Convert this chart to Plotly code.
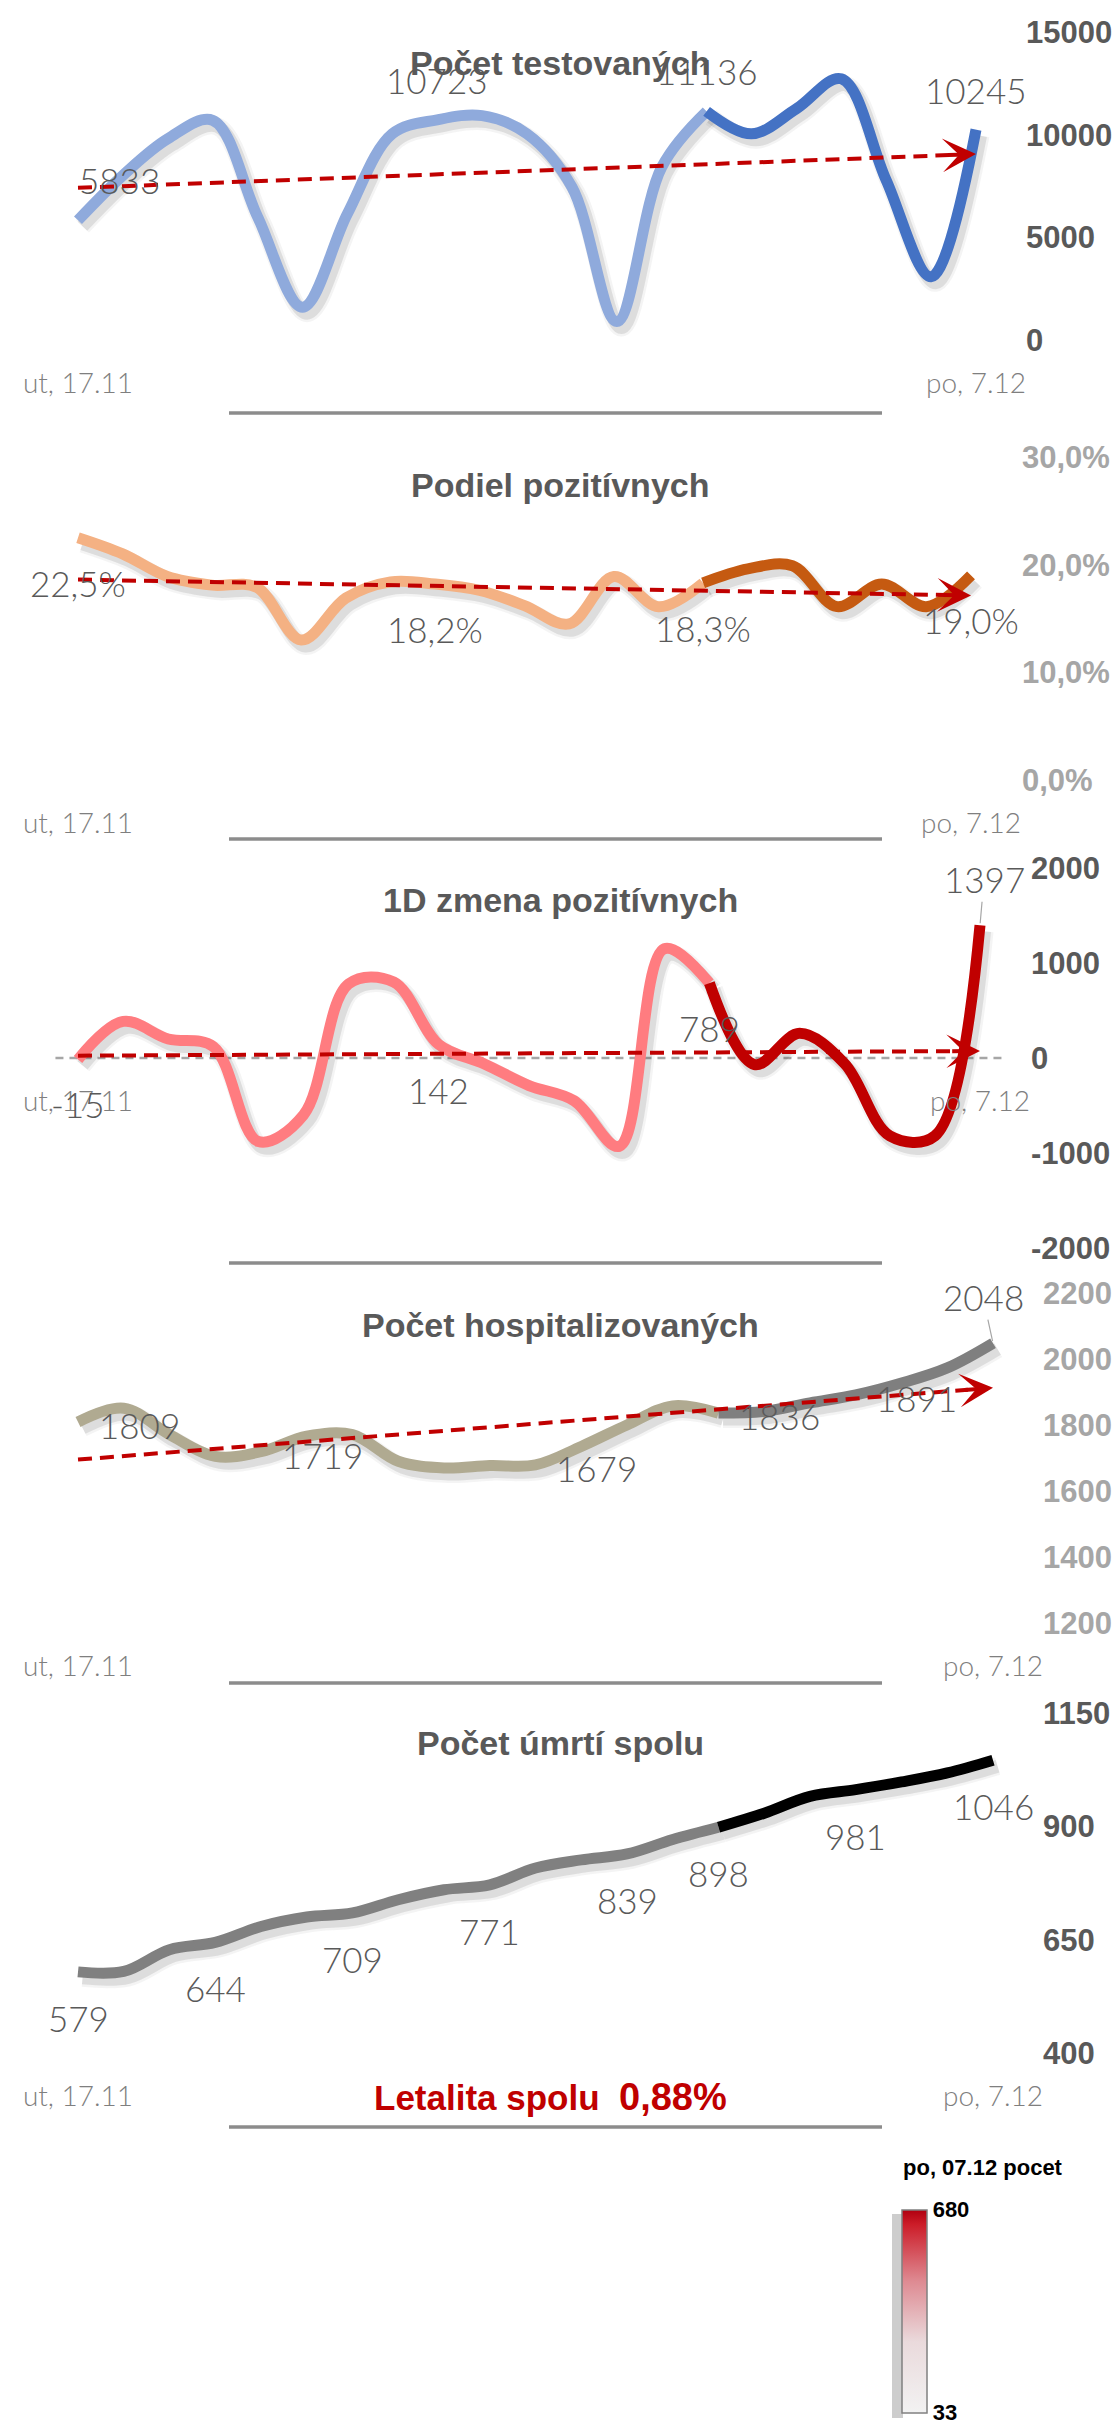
import numpy as np
import plotly.graph_objects as go

W, H = 1116, 2424

# ---------------- data ----------------
x_tick_labels = ["ut, 17.11", "po, 7.12"]
days = list(range(21))
highlight_from = 14  # last 7 days drawn darker

tests = [5833, 8020, 9800, 10700, 6000, 1600, 6150, 10040, 10723, 10930, 10040,
         7450, 900, 8420, 11136, 10040, 11260, 12720, 7780, 3080, 10245]
pos_share = [0.225, 0.210, 0.189, 0.181, 0.179, 0.130, 0.169, 0.184, 0.182, 0.176, 0.162,
             0.145, 0.189, 0.161, 0.183, 0.196, 0.199, 0.161, 0.182, 0.161, 0.190]
pos_change = [-15, 385, 200, 120, -880, -600, 780, 800, 142, -60, -290,
              -450, -930, 1150, 789, -70, 260, -60, -820, -820, 1397]
hospitalized = [1809, 1851, 1771, 1705, 1719, 1766, 1771, 1690, 1670, 1677, 1679,
                1735, 1800, 1858, 1836, 1841, 1867, 1891, 1927, 1973, 2048]
deaths = [579, 580, 628, 644, 679, 700, 709, 738, 760, 771, 808,
          826, 839, 871, 898, 929, 966, 981, 998, 1018, 1046]

tests_ticks = [0, 5000, 10000, 15000]
share_ticks = [0.0, 0.1, 0.2, 0.3]
change_ticks = [-2000, -1000, 0, 1000, 2000]
hosp_ticks = [1200, 1400, 1600, 1800, 2000, 2200]
deaths_ticks = [400, 650, 900, 1150]

tests_label_idx = [0, 8, 14, 20]
share_label_idx = [0, 8, 14, 20]
change_label_idx = [0, 8, 14, 20]
hosp_label_idx = [0, 4, 10, 14, 17, 20]
deaths_label_idx = [0, 3, 6, 9, 12, 14, 17, 20]

lethality_text = "Letalita spolu"
lethality_value = "0,88%"
colorbar_title = "po, 07.12 pocet"
colorbar_min, colorbar_max = 33, 680


def pct(v):
    return f"{v*100:.1f}%".replace(".", ",")


def num(v):
    return f"{int(round(v))}"


# ---------------- layout specs (pixels) ----------------
charts = [
    dict(title="Počet testovaných", values=tests, ticks=tests_ticks, fmt=num, tickfmt=num,
         rng=[0, 15000], top=32, bottom=340, x0=78, xN=976, tick_left=1029, tick_color="#595959",
         light="#8FAADC", dark="#4472C4", trend=True, title_y=63,
         label_idx=tests_label_idx, lab_dy=40, lab_dx=0, first_dx=41, lead_last=False, lead_dx=0),
    dict(title="Podiel pozitívnych", values=pos_share, ticks=share_ticks, fmt=pct, tickfmt=pct,
         rng=[0, 0.3], top=457, bottom=780, x0=78, xN=971, tick_left=1025, tick_color="#A6A6A6",
         light="#F4B183", dark="#C55A11", trend=True, title_y=485,
         label_idx=share_label_idx, lab_dy=-45, lab_dx=0, first_dx=0, lead_last=False, lead_dx=0),
    dict(title="1D zmena pozitívnych", values=pos_change, ticks=change_ticks, fmt=num, tickfmt=num,
         rng=[-2000, 2000], top=868, bottom=1248, x0=78, xN=980, tick_left=1034, tick_color="#595959",
         light="#FF7C80", dark="#C00000", trend=True, title_y=900,
         label_idx=change_label_idx, lab_dy=-45, lab_dx=0, first_dx=0, lead_last=True, lead_dx=4),
    dict(title="Počet hospitalizovaných", values=hospitalized, ticks=hosp_ticks, fmt=num, tickfmt=num,
         rng=[1200, 2200], top=1293, bottom=1623, x0=78, xN=993, tick_left=1046, tick_color="#A6A6A6",
         light="#B0AA91", dark="#7F7F7F", trend=True, title_y=1325,
         label_idx=hosp_label_idx, lab_dy=-3, lab_dx=61, first_dx=61, lead_last=True, lead_dx=-10),
    dict(title="Počet úmrtí spolu", values=deaths, ticks=deaths_ticks, fmt=num, tickfmt=num,
         rng=[400, 1150], top=1713, bottom=2053, x0=78, xN=993, tick_left=1046, tick_color="#595959",
         light="#808080", dark="#000000", trend=False, title_y=1743,
         label_idx=deaths_label_idx, lab_dy=-46, lab_dx=0, first_dx=0, lead_last=False, lead_dx=0),
]
separator_y = [413, 839, 1263, 1683, 2127]

BOLD_FONT = "Liberation Sans, Arial, sans-serif"
THIN_FONT = "Lato, Open Sans, sans-serif"

fig = go.Figure()
layout = dict(width=W, height=H, margin=dict(l=0, r=0, t=0, b=0, autoexpand=False),
              paper_bgcolor="white", plot_bgcolor="white", showlegend=False)
annotations = []
shapes = []

for k, c in enumerate(charts, start=1):
    sfx = "" if k == 1 else str(k)
    xa, ya = "x" + sfx, "y" + sfx
    s = (c["xN"] - c["x0"]) / 20
    xdom = [(c["x0"] - s / 2) / W, (c["xN"] + s / 2) / W]
    ydom = [1 - c["bottom"] / H, 1 - c["top"] / H]
    vals = c["values"]
    span = c["rng"][1] - c["rng"][0]
    px_h = c["bottom"] - c["top"]

    # x-axis position (chart 3 crosses at zero)
    if c["rng"][0] < 0 < c["rng"][1]:
        xpos = ydom[0] + (0 - c["rng"][0]) / span * (ydom[1] - ydom[0])
        x_anchor = dict(anchor="free", position=xpos)
        shapes.append(dict(type="line", xref=xa + " domain", x0=0, x1=1, yref=ya, y0=0, y1=0,
                           line=dict(color="#A6A6A6", width=2.5, dash="8px,6px"), layer="below"))
    else:
        x_anchor = dict(anchor=ya)

    layout["xaxis" + sfx] = dict(domain=xdom, range=[-0.5, 20.5], showgrid=False, zeroline=False,
                                 showline=False, ticks="", tickvals=[days[0], days[-1]],
                                 ticktext=x_tick_labels, ticklabelstandoff=24,
                                 tickfont=dict(family=THIN_FONT, size=28, color="#7F7F7F", weight=300),
                                 fixedrange=True, **x_anchor)
    layout["yaxis" + sfx] = dict(domain=ydom, range=c["rng"], showgrid=False, zeroline=False,
                                 showline=False, ticks="", side="right", anchor="free",
                                 position=(c["tick_left"] - 4) / W,
                                 tickvals=c["ticks"], ticktext=[c["tickfmt"](t) for t in c["ticks"]],
                                 tickfont=dict(family=BOLD_FONT, size=31, color=c["tick_color"], weight="bold"),
                                 fixedrange=True)

    segs = [(days[:highlight_from + 1], vals[:highlight_from + 1], c["light"]),
            (days[highlight_from:], vals[highlight_from:], c["dark"])]
    # soft drop shadows
    dy = span / px_h * 6
    for xs, ys, col in segs:
        for w, a in ((18, 0.06), (13, 0.12)):
            fig.add_trace(go.Scatter(x=[x + 0.1 for x in xs], y=[y - dy for y in ys], mode="lines",
                                     line=dict(color=f"rgba(60,60,60,{a})", width=w, shape="spline"),
                                     xaxis=xa, yaxis=ya, hoverinfo="skip"))
    for xs, ys, col in segs:
        fig.add_trace(go.Scatter(x=xs, y=ys, mode="lines",
                                 line=dict(color=col, width=11, shape="spline"),
                                 xaxis=xa, yaxis=ya, hoverinfo="skip"))

    if c["trend"]:
        slope, icpt = np.polyfit(days, vals, 1)
        t_end = 19.45
        fig.add_trace(go.Scatter(x=[days[0], t_end], y=[icpt, icpt + slope * t_end], mode="lines",
                                 line=dict(color="#C00000", width=4, dash="14px,8px"),
                                 xaxis=xa, yaxis=ya, hoverinfo="skip"))
        annotations.append(dict(x=days[-1], y=icpt + slope * days[-1], ax=t_end - 0.1,
                                ay=icpt + slope * (t_end - 0.1), xref=xa, yref=ya, axref=xa, ayref=ya,
                                text="", showarrow=True, arrowhead=3, arrowsize=1.4, arrowwidth=4,
                                arrowcolor="#C00000", standoff=0))

    # data labels
    for j, i in enumerate(c["label_idx"]):
        base = dict(x=days[i], y=vals[i], xref=xa, yref=ya, text=c["fmt"](vals[i]),
                    font=dict(family=THIN_FONT, size=35, color="#595959", weight=300))
        if c["lead_last"] and i == days[-1]:
            base.update(showarrow=True, arrowhead=0, arrowwidth=1.2, arrowcolor="#A6A6A6",
                        ax=c["lead_dx"], ay=-46, standoff=2)
        else:
            dx = c["first_dx"] if j == 0 else c["lab_dx"]
            base.update(showarrow=False, xshift=dx, yshift=c["lab_dy"])
        annotations.append(base)

    # title
    annotations.append(dict(x=560 / W, y=1 - c["title_y"] / H, xref="paper", yref="paper",
                            text=c["title"], showarrow=False, xanchor="center", yanchor="middle",
                            font=dict(family=BOLD_FONT, size=34, color="#595959", weight="bold")))

for yy in separator_y:
    shapes.append(dict(type="line", xref="paper", yref="paper", x0=229 / W, x1=882 / W,
                       y0=1 - yy / H, y1=1 - yy / H, line=dict(color="#8C8C8C", width=3.5)))

annotations.append(dict(x=550 / W, y=1 - 2097 / H, xref="paper", yref="paper", showarrow=False,
                        text=f"{lethality_text}  <span style='font-size:38px'>{lethality_value}</span>",
                        font=dict(family=BOLD_FONT, size=35, color="#C00000", weight="bold"),
                        xanchor="center", yanchor="middle"))

# colour-scale legend
annotations.append(dict(x=983 / W, y=1 - 2167 / H, xref="paper", yref="paper", showarrow=False,
                        text=colorbar_title, xanchor="center", yanchor="middle",
                        font=dict(family=BOLD_FONT, size=22, color="#000000", weight="bold")))
shapes.append(dict(type="rect", xref="paper", yref="paper", x0=892 / W, x1=903 / W,
                   y0=1 - 2418 / H, y1=1 - 2214 / H, line=dict(width=0),
                   fillcolor="rgba(90,90,90,0.3)", layer="below"))
fig.add_trace(go.Scatter(
    x=[None], y=[None], mode="markers", xaxis="x5", yaxis="y5", hoverinfo="skip",
    marker=dict(color=[colorbar_min], cmin=colorbar_min, cmax=colorbar_max,
                colorscale=[[0, "#F2F2F2"], [0.35, "#EADADC"], [0.65, "#DE8A92"], [0.93, "#CC1C28"],
                            [1, "#B00010"]],
                showscale=True,
                colorbar=dict(x=902 / W, xanchor="left", xpad=0, ypad=0, y=1 - 2311 / H, yanchor="middle",
                              len=203, lenmode="pixels", thickness=25, thicknessmode="pixels",
                              outlinecolor="#808080", outlinewidth=1.5, ticks="",
                              ticklabeloverflow="allow",
                              tickvals=[colorbar_min, colorbar_max],
                              ticktext=[str(colorbar_min), str(colorbar_max)],
                              tickfont=dict(family=BOLD_FONT, size=22, color="#000000", weight="bold")))))

layout["annotations"] = annotations
layout["shapes"] = shapes
fig.update_layout(**layout)
fig.write_html("out.html", config={"displayModeBar": False},
               post_script="document.body.style.margin='0px';document.body.style.overflow='hidden';")
